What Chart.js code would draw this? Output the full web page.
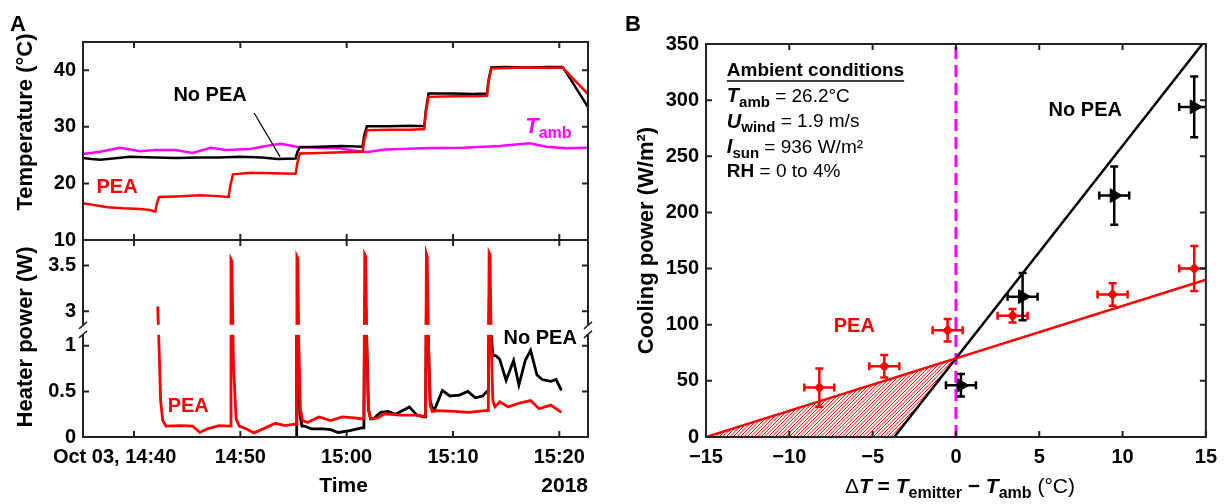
<!DOCTYPE html>
<html>
<head>
<meta charset="utf-8">
<script src="https://cdn.jsdelivr.net/npm/chart.js@4.4.0/dist/chart.umd.min.js"></script>
<style>
  body { margin: 0; background: #fff; width: 1225px; height: 504px; position: relative; overflow: hidden; }
  canvas { position: absolute; left: 0; top: 0; }
</style>
</head>
<body>
<canvas id="temp-chart" width="1225" height="504"></canvas>
<canvas id="power-chart" width="1225" height="504"></canvas>
<canvas id="cooling-chart" width="1225" height="504"></canvas>
<script>
// ---- data (time in minutes after Oct 03 2018, 14:40) ----
const timeMin = -4.8, timeMax = 42.7;
const timeTicks = [0, 10, 20, 30, 40];
const timeTickLabels = ['Oct 03, 14:40', '14:50', '15:00', '15:10', '15:20'];
const tempTicks = [10, 20, 30, 40];

const peaTempTime = [-4.8, -3.5, -2.5, -1, 0.6, 1.5, 2.0, 2.15, 2.35, 4, 6.2, 7.5, 8.9, 9.05, 9.3, 11, 13, 15.2, 15.35, 15.6, 17.5, 19.5, 21.5, 21.65, 21.9, 24, 26, 27.3, 27.45, 27.7, 30, 32, 33.2, 33.35, 33.6, 35, 37, 39, 40.3, 41, 42.7];
const peaTemp = [16.5, 16.1, 15.8, 15.6, 15.5, 15.3, 15.0, 16.5, 17.6, 17.7, 17.9, 17.8, 17.6, 19.5, 21.6, 21.9, 21.8, 21.7, 23.5, 25.3, 25.4, 25.5, 25.6, 27.5, 29.4, 29.5, 29.5, 29.6, 32.5, 35.3, 35.4, 35.4, 35.5, 38, 40.3, 40.4, 40.5, 40.4, 40.5, 39.1, 35.8];

const noPeaTempTime = [-4.8, -4, -3.2, -2, -0.4, 2, 4, 6, 8, 10, 12, 13.5, 15.2, 15.35, 15.6, 17.5, 19.5, 21.5, 21.65, 21.9, 24, 26, 27.3, 27.45, 27.7, 30, 32, 33.2, 33.35, 33.6, 35, 37, 39, 40.3, 40.8, 41.7, 42.7];
const noPeaTemp = [24.5, 24.3, 24.2, 24.4, 24.7, 24.6, 24.5, 24.6, 24.6, 24.7, 24.6, 24.3, 24.4, 25.5, 26.4, 26.5, 26.6, 26.5, 28.5, 30.1, 30.1, 30.2, 30.1, 33, 35.9, 35.9, 35.8, 35.9, 38.3, 40.5, 40.6, 40.5, 40.6, 40.6, 39.2, 36.5, 33.5];

const ambTime = [-4.8, -3.2, -1.3, 0.6, 2, 3.9, 5.5, 7.2, 8.6, 10.9, 12.7, 13.8, 15.3, 17.1, 19.2, 21.8, 23.6, 27.2, 30.9, 34.4, 37.2, 38.8, 40.6, 42.7];
const ambTemp = [25.2, 25.6, 26.3, 25.7, 25.9, 25.9, 25.4, 26.3, 25.9, 26.1, 26.7, 27.0, 26.5, 26.3, 26.2, 25.5, 26.0, 26.2, 26.3, 26.6, 27.1, 26.5, 26.2, 26.3];

const powerTicks = [0, 0.5, 1, 3, 3.5];
const powerTickLabels = ['0', '0.5', '1', '3', '3.5'];

const peaPowTime = [2.23, 2.35, 2.5, 2.7, 3.0, 4.4, 5.5, 6.2, 6.9, 8.0, 8.9, 9.05, 9.12, 9.2, 9.35, 9.6, 9.9, 10.55, 11.3, 12.35, 13.3, 14.2, 15.1, 15.25, 15.32, 15.4, 15.5, 15.65, 15.85, 16.3, 17.4, 18.5, 19.6, 20.7, 21.4, 21.62, 21.7, 21.78, 21.9, 22.05, 22.25, 22.9, 23.6, 25.0, 26.5, 27.2, 27.42, 27.5, 27.58, 27.7, 27.85, 28.05, 28.7, 30.1, 31.5, 33.0, 33.32, 33.4, 33.48, 33.6, 33.75, 33.95, 34.4, 35.2, 36.2, 37.3, 38.1, 39.2, 40.2];
const peaPow = [3.05, 1.0, 0.4, 0.18, 0.12, 0.125, 0.12, 0.05, 0.09, 0.125, 0.12, 0.12, 3.57, 3.55, 0.8, 0.2, 0.12, 0.09, 0.045, 0.1, 0.15, 0.125, 0.14, 0.14, 3.6, 3.58, 1.0, 0.3, 0.18, 0.16, 0.22, 0.18, 0.22, 0.21, 0.2, 0.2, 3.62, 3.6, 1.0, 0.3, 0.2, 0.21, 0.255, 0.24, 0.24, 0.23, 0.23, 3.63, 3.6, 1.0, 0.35, 0.28, 0.29, 0.28, 0.27, 0.29, 0.29, 3.64, 3.62, 1.0, 0.4, 0.33, 0.385, 0.33, 0.37, 0.4, 0.31, 0.35, 0.27];

const noPeaPowTime = [15.25, 15.3, 15.45, 15.6, 15.8, 16.0, 16.7, 17.8, 18.5, 19.2, 20.3, 21.4, 21.62, 21.7, 21.78, 21.9, 22.05, 22.25, 22.5, 23.2, 23.9, 24.6, 25.9, 26.6, 27.2, 27.42, 27.5, 27.58, 27.7, 27.85, 28.05, 28.3, 29.0, 29.7, 30.6, 31.4, 32.1, 32.8, 33.2, 33.32, 33.4, 33.48, 33.6, 33.75, 34.1, 34.4, 35.0, 35.7, 36.2, 36.8, 37.3, 37.9, 38.4, 39.2, 39.7, 40.2];
const noPeaPow = [0, 2.0, 0.8, 0.25, 0.12, 0.12, 0.09, 0.09, 0.08, 0.05, 0.07, 0.1, 0.1, 3.12, 3.1, 1.0, 0.3, 0.2, 0.2, 0.27, 0.28, 0.25, 0.33, 0.24, 0.22, 0.22, 3.04, 3.02, 1.0, 0.4, 0.32, 0.31, 0.51, 0.45, 0.46, 0.5, 0.43, 0.45, 0.5, 0.5, 3.08, 3.06, 1.2, 0.9, 0.885, 0.85, 0.62, 0.84, 0.57, 0.84, 0.95, 0.68, 0.63, 0.61, 0.63, 0.51];

// panel B: cooling power vs dT
const peaDT = [-8.2, -4.3, -0.5, 3.4, 9.4, 14.3];
const peaP = [44, 63, 95, 108, 127, 150];
const peaDTErr = [0.9, 0.9, 0.9, 0.9, 0.9, 0.9];
const peaPErr = [17, 10, 10, 6, 10, 20];

const noPeaDT = [0.3, 4.0, 9.5, 14.3];
const noPeaP = [46, 125, 215, 294];
const noPeaDTErr = [0.9, 0.9, 0.9, 0.9];
const noPeaPErr = [10, 21, 26, 27];

const peaFitDT = [-15, 15];
const peaFitP = [0, 140];
const noPeaFitDT = [-3.7, 15];
const noPeaFitP = [0, 354];
const hatchDT = [-15, 0, -3.7];
const hatchP = [0, 70, 0];
const zeroLineDT = [0, 0];
const zeroLineP = [0, 350];

// ---- helpers ----
const RED = '#ff0000', MAGENTA = '#ff00ff', AXIS = '#222';
const FONT = "'Liberation Sans', Arial, Helvetica, sans-serif";
Chart.defaults.font.family = FONT;
Chart.defaults.font.size = 20;
Chart.defaults.font.weight = 'bold';
Chart.defaults.color = '#000';
Chart.defaults.animation = false;
Chart.defaults.events = [];
Chart.defaults.plugins.legend.display = false;
Chart.defaults.plugins.tooltip.enabled = false;

function font(size, weight = 'bold', style = 'normal') {
  return `${style} ${weight} ${size}px ${FONT}`;
}
function toXY(xs, ys) {
  return xs.map((x, i) => ({ x: x, y: ys[i] }));
}

// broken power axis: 1.12..2.85 W squeezed into a small gap
const BREAK_LO = 1.12, BREAK_HI = 2.85, GAP = 0.11;
function brk(v) {
  if (v <= BREAK_LO) return v;
  if (v >= BREAK_HI) return BREAK_LO + GAP + (v - BREAK_HI);
  return BREAK_LO + GAP * (v - BREAK_LO) / (BREAK_HI - BREAK_LO);
}

function drawRich(ctx, x, y, parts, align) {
  ctx.save();
  ctx.textBaseline = 'middle';
  ctx.textAlign = 'left';
  let w = 0;
  parts.forEach(p => { ctx.font = p.font; p.w = ctx.measureText(p.text).width; w += p.w; });
  let cx = align === 'center' ? x - w / 2 : align === 'right' ? x - w : x;
  parts.forEach(p => {
    ctx.font = p.font;
    ctx.fillStyle = p.color || '#000';
    ctx.fillText(p.text, cx, y + (p.dy || 0));
    cx += p.w;
  });
  ctx.restore();
  return w;
}
function drawVertical(ctx, text, x, y, f) {
  ctx.save();
  ctx.translate(x, y);
  ctx.rotate(-Math.PI / 2);
  ctx.font = f;
  ctx.fillStyle = '#000';
  ctx.textAlign = 'center';
  ctx.textBaseline = 'middle';
  ctx.fillText(text, 0, 0);
  ctx.restore();
}

// box with inward ticks on all four sides
const boxPlugin = {
  id: 'box',
  afterDraw(chart) {
    const { ctx, chartArea: a, scales } = chart;
    const len = 6;
    ctx.save();
    ctx.strokeStyle = AXIS;
    ctx.lineWidth = 2;
    ctx.beginPath();
    scales.x.ticks.forEach(t => {
      const px = scales.x.getPixelForValue(t.value);
      ctx.moveTo(px, a.top); ctx.lineTo(px, a.top + len);
      ctx.moveTo(px, a.bottom); ctx.lineTo(px, a.bottom - len);
    });
    scales.y.ticks.forEach(t => {
      const py = scales.y.getPixelForValue(t.value);
      ctx.moveTo(a.left, py); ctx.lineTo(a.left + len, py);
      ctx.moveTo(a.right, py); ctx.lineTo(a.right - len, py);
    });
    ctx.stroke();
    ctx.strokeRect(a.left, a.top, a.right - a.left, a.bottom - a.top);
    ctx.restore();
  }
};

const breakPlugin = {
  id: 'axisBreak',
  afterDraw(chart) {
    const { ctx, chartArea: a, scales: { y } } = chart;
    const yLo = y.getPixelForValue(brk(BREAK_LO));
    const yHi = y.getPixelForValue(brk(BREAK_HI));
    ctx.save();
    ctx.fillStyle = '#fff';
    ctx.fillRect(a.left - 3, yHi, a.right - a.left + 6, yLo - yHi);
    ctx.strokeStyle = AXIS;
    ctx.lineWidth = 1.5;
    [a.left, a.right].forEach(x => {
      ctx.beginPath();
      ctx.moveTo(x - 4, yLo + 3); ctx.lineTo(x + 4, yLo - 4);
      ctx.moveTo(x - 4, yHi + 4); ctx.lineTo(x + 4, yHi - 3);
      ctx.stroke();
    });
    ctx.restore();
  }
};

// red hatching of the region between the two fit lines, below dT = 0
const hatchPlugin = {
  id: 'hatch',
  beforeDatasetsDraw(chart) {
    const { ctx, chartArea: a, scales: { x, y } } = chart;
    ctx.save();
    ctx.beginPath();
    hatchDT.forEach((v, i) => {
      const px = x.getPixelForValue(v), py = y.getPixelForValue(hatchP[i]);
      if (i === 0) ctx.moveTo(px, py); else ctx.lineTo(px, py);
    });
    ctx.closePath();
    ctx.clip();
    ctx.strokeStyle = RED;
    ctx.lineWidth = 1;
    ctx.beginPath();
    const h = a.bottom - a.top;
    for (let s = a.left - h; s < a.right; s += 3.5) {
      ctx.moveTo(s, a.bottom); ctx.lineTo(s + h, a.top);
    }
    ctx.stroke();
    ctx.restore();
  }
};

const errorBarPlugin = {
  id: 'errorBars',
  afterDatasetsDraw(chart) {
    const { ctx, chartArea: a, scales: { x, y } } = chart;
    ctx.save();
    ctx.beginPath();
    ctx.rect(a.left, a.top, a.right - a.left, a.bottom - a.top);
    ctx.clip();
    chart.data.datasets.forEach(ds => {
      if (!ds.errY) return;
      ctx.strokeStyle = ds.borderColor;
      ctx.lineWidth = 2.5;
      const c = 4;
      ds.data.forEach((p, i) => {
        const px = x.getPixelForValue(p.x), py = y.getPixelForValue(p.y);
        const x0 = x.getPixelForValue(p.x - ds.errX[i]), x1 = x.getPixelForValue(p.x + ds.errX[i]);
        const y0 = y.getPixelForValue(p.y - ds.errY[i]), y1 = y.getPixelForValue(p.y + ds.errY[i]);
        ctx.beginPath();
        ctx.moveTo(x0, py); ctx.lineTo(x1, py);
        ctx.moveTo(x0, py - c); ctx.lineTo(x0, py + c);
        ctx.moveTo(x1, py - c); ctx.lineTo(x1, py + c);
        ctx.moveTo(px, y0); ctx.lineTo(px, y1);
        ctx.moveTo(px - c, y0); ctx.lineTo(px + c, y0);
        ctx.moveTo(px - c, y1); ctx.lineTo(px + c, y1);
        ctx.stroke();
      });
    });
    ctx.restore();
  }
};

function lineSet(data, color, width) {
  return { data: data, showLine: true, pointRadius: 0, borderColor: color, borderWidth: width || 2.5, fill: false, tension: 0 };
}

function timeScale(showLabels) {
  return {
    type: 'linear', min: timeMin, max: timeMax,
    grid: { display: false, drawTicks: false }, border: { display: false },
    afterBuildTicks: s => { s.ticks = timeTicks.map(v => ({ value: v })); },
    afterFit: s => { s.height = showLabels ? 67 : 0; },
    ticks: {
      display: showLabels, padding: 8, maxRotation: 0, autoSkip: false, color: '#000',
      callback: v => {
        const i = timeTicks.indexOf(v);
        return i === 0 ? timeTickLabels[0] + '       ' : timeTickLabels[i];
      }
    }
  };
}

// ---- panel A, temperature ----
new Chart(document.getElementById('temp-chart'), {
  type: 'scatter',
  data: {
    datasets: [
      lineSet(toXY(peaTempTime, peaTemp), RED),
      lineSet(toXY(noPeaTempTime, noPeaTemp), '#000'),
      lineSet(toXY(ambTime, ambTemp), MAGENTA)
    ]
  },
  options: {
    responsive: false,
    devicePixelRatio: 1,
    layout: { padding: { left: 0, top: 42, right: 637, bottom: 264 } },
    scales: {
      x: timeScale(false),
      y: {
        min: 10, max: 45,
        grid: { display: false, drawTicks: false }, border: { display: false },
        afterBuildTicks: s => { s.ticks = tempTicks.map(v => ({ value: v })); },
        afterFit: s => { s.width = 83; },
        ticks: { padding: 7, color: '#000' }
      }
    }
  },
  plugins: [boxPlugin, {
    id: 'tempLabels',
    afterDraw(chart) {
      const { ctx, scales: { x, y } } = chart;
      drawRich(ctx, 10, 25, [{ text: 'A', font: font(22) }], 'left');
      drawVertical(ctx, 'Temperature (°C)', 26, 122, font(22));
      drawRich(ctx, x.getPixelForValue(7.15), y.getPixelForValue(35.5), [{ text: 'No PEA', font: font(20) }], 'center');
      ctx.save();
      ctx.strokeStyle = '#000';
      ctx.lineWidth = 1.2;
      ctx.beginPath();
      ctx.moveTo(x.getPixelForValue(11.3), y.getPixelForValue(32.45));
      ctx.lineTo(x.getPixelForValue(13.74), y.getPixelForValue(24.7));
      ctx.stroke();
      ctx.restore();
      drawRich(ctx, x.getPixelForValue(-1.6), y.getPixelForValue(19.2), [{ text: 'PEA', font: font(20), color: RED }], 'center');
      drawRich(ctx, x.getPixelForValue(36.8), y.getPixelForValue(30), [
        { text: 'T', font: font(22, 'bold', 'italic'), color: MAGENTA },
        { text: 'amb', font: font(16), color: MAGENTA, dy: 7 }
      ], 'left');
    }
  }]
});

// ---- panel A, heater power ----
new Chart(document.getElementById('power-chart'), {
  type: 'scatter',
  data: {
    datasets: [
      lineSet(toXY(peaPowTime, peaPow.map(brk)), RED, 2.8),
      lineSet(toXY(noPeaPowTime, noPeaPow.map(brk)), '#000', 2.8)
    ]
  },
  options: {
    responsive: false,
    devicePixelRatio: 1,
    layout: { padding: { left: 0, top: 240, right: 637, bottom: 0 } },
    scales: {
      x: timeScale(true),
      y: {
        min: 0, max: brk(3.78),
        grid: { display: false, drawTicks: false }, border: { display: false },
        afterBuildTicks: s => { s.ticks = powerTicks.map(v => ({ value: brk(v) })); },
        afterFit: s => { s.width = 83; },
        ticks: { padding: 7, color: '#000', callback: (v, i) => powerTickLabels[i] }
      }
    }
  },
  plugins: [boxPlugin, breakPlugin, {
    id: 'powerLabels',
    afterDraw(chart) {
      const { ctx, chartArea: a, scales: { x, y } } = chart;
      drawVertical(ctx, 'Heater power (W)', 26, 337, font(22));
      drawRich(ctx, x.getPixelForValue(5.1), y.getPixelForValue(brk(0.33)), [{ text: 'PEA', font: font(20), color: RED }], 'center');
      drawRich(ctx, x.getPixelForValue(38.2), y.getPixelForValue(brk(1.08)), [{ text: 'No PEA', font: font(20) }], 'center');
      drawRich(ctx, (a.left + a.right) / 2 + 8, 486, [{ text: 'Time', font: font(21) }], 'center');
      drawRich(ctx, a.right, 486, [{ text: '2018', font: font(21) }], 'right');
    }
  }]
});

// ---- panel B, cooling power ----
const minusLabel = v => (v < 0 ? '\u2212' + Math.abs(v) : String(v));

new Chart(document.getElementById('cooling-chart'), {
  type: 'scatter',
  data: {
    datasets: [
      lineSet(toXY(peaFitDT, peaFitP), RED),
      lineSet(toXY(noPeaFitDT, noPeaFitP), '#000'),
      Object.assign(lineSet(toXY(zeroLineDT, zeroLineP), MAGENTA, 3), { borderDash: [12, 6] }),
      { data: toXY(peaDT, peaP), errX: peaDTErr, errY: peaPErr, showLine: false, pointStyle: 'rectRot', pointRadius: 5, backgroundColor: RED, borderColor: RED },
      { data: toXY(noPeaDT, noPeaP), errX: noPeaDTErr, errY: noPeaPErr, showLine: false, pointStyle: 'triangle', rotation: 90, pointRadius: 8, backgroundColor: '#000', borderColor: '#000' }
    ]
  },
  options: {
    responsive: false,
    devicePixelRatio: 1,
    layout: { padding: { left: 600, top: 44, right: 13, bottom: 0 } },
    scales: {
      x: {
        min: -15, max: 15,
        grid: { display: false, drawTicks: false }, border: { display: false },
        afterFit: s => { s.height = 67; },
        ticks: { stepSize: 5, padding: 8, color: '#000', maxRotation: 0, callback: minusLabel }
      },
      y: {
        min: 0, max: 350,
        grid: { display: false, drawTicks: false }, border: { display: false },
        afterFit: s => { s.width = 106; },
        ticks: { stepSize: 50, padding: 7, color: '#000' }
      }
    }
  },
  plugins: [hatchPlugin, errorBarPlugin, boxPlugin, {
    id: 'coolingLabels',
    afterDraw(chart) {
      const { ctx, chartArea: a, scales: { x, y } } = chart;
      drawRich(ctx, 625, 25, [{ text: 'B', font: font(22) }], 'left');
      drawVertical(ctx, 'Cooling power (W/m²)', 647, (a.top + a.bottom) / 2, font(22));
      drawRich(ctx, (a.left + a.right) / 2 + 4, 487, [
        { text: 'Δ', font: font(21, 'normal') },
        { text: 'T', font: font(21, 'bold', 'italic') },
        { text: ' = ', font: font(21) },
        { text: 'T', font: font(21, 'bold', 'italic') },
        { text: 'emitter', font: font(16), dy: 7 },
        { text: ' − ', font: font(21) },
        { text: 'T', font: font(21, 'bold', 'italic') },
        { text: 'amb', font: font(16), dy: 7 },
        { text: ' (°C)', font: font(21, 'normal') }
      ], 'center');

      const bx = x.getPixelForValue(-13.75);
      const hy = y.getPixelForValue(326);
      const w = drawRich(ctx, bx, hy, [{ text: 'Ambient conditions', font: font(19) }], 'left');
      ctx.save();
      ctx.strokeStyle = '#000';
      ctx.lineWidth = 1.5;
      ctx.beginPath();
      ctx.moveTo(bx, hy + 10); ctx.lineTo(bx + w, hy + 10);
      ctx.stroke();
      ctx.restore();
      const sub = { font: font(15), dy: 6 };
      drawRich(ctx, bx, y.getPixelForValue(303), [
        { text: 'T', font: font(20, 'bold', 'italic') },
        Object.assign({ text: 'amb' }, sub),
        { text: ' = 26.2°C', font: font(19, 'normal') }
      ], 'left');
      drawRich(ctx, bx, y.getPixelForValue(280.5), [
        { text: 'U', font: font(20, 'bold', 'italic') },
        Object.assign({ text: 'wind' }, sub),
        { text: ' = 1.9 m/s', font: font(19, 'normal') }
      ], 'left');
      drawRich(ctx, bx, y.getPixelForValue(257.5), [
        { text: 'I', font: font(20, 'bold', 'italic') },
        Object.assign({ text: 'sun' }, sub),
        { text: ' = 936 W/m²', font: font(19, 'normal') }
      ], 'left');
      drawRich(ctx, bx, y.getPixelForValue(236), [
        { text: 'RH', font: font(19) },
        { text: ' = 0 to 4%', font: font(19, 'normal') }
      ], 'left');

      drawRich(ctx, x.getPixelForValue(7.76), y.getPixelForValue(291), [{ text: 'No PEA', font: font(20) }], 'center');
      drawRich(ctx, x.getPixelForValue(-6.1), y.getPixelForValue(98), [{ text: 'PEA', font: font(20), color: RED }], 'center');
    }
  }]
});
</script>
</body>
</html>
